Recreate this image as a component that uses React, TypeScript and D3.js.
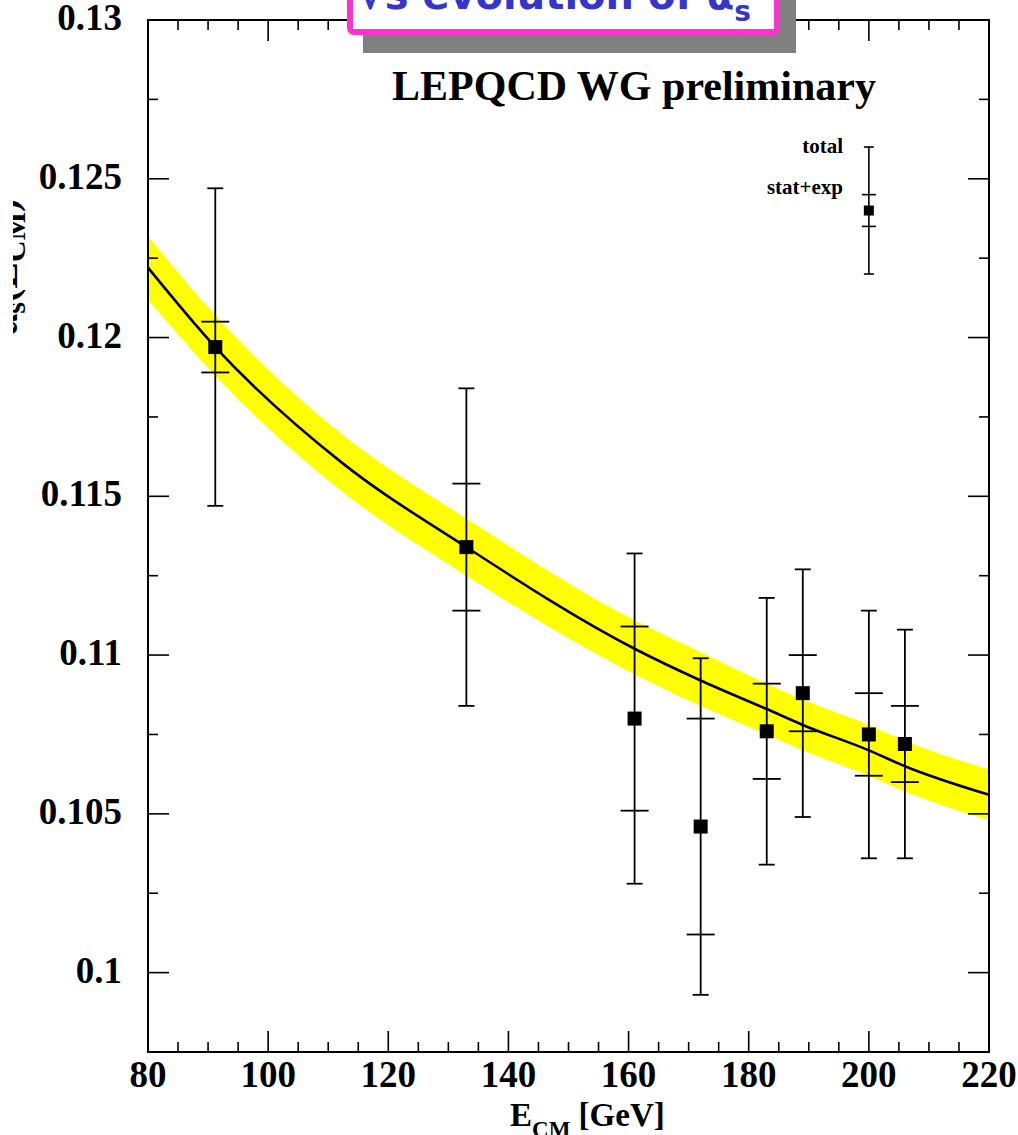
import React from "react";
import * as d3 from "d3";

// ---- data ----
const energies = [91.2, 133, 161, 172, 183, 189, 200, 206];
const alphaS = [0.1197, 0.1134, 0.108, 0.1046, 0.1076, 0.1088, 0.1075, 0.1072];
const statUp = [0.1205, 0.1154, 0.1109, 0.108, 0.1091, 0.11, 0.1088, 0.1084];
const statLo = [0.1189, 0.1114, 0.1051, 0.1012, 0.1061, 0.1076, 0.1062, 0.106];
const totUp = [0.1247, 0.1184, 0.1132, 0.1099, 0.1118, 0.1127, 0.1114, 0.1108];
const totLo = [0.1147, 0.1084, 0.1028, 0.0993, 0.1034, 0.1049, 0.1036, 0.1036];

const curveE = [80, 91.2, 112, 133, 161, 172, 183, 189, 200, 206, 220];
const curveA = [0.1222, 0.1197, 0.1161, 0.1134, 0.1102, 0.1092, 0.1083, 0.1078, 0.107, 0.1065, 0.1056];
const bandUp = [0.1232, 0.1207, 0.117, 0.1143, 0.1111, 0.1101, 0.1091, 0.1086, 0.1078, 0.1073, 0.1064];
const bandLo = [0.1212, 0.1188, 0.1152, 0.1125, 0.1094, 0.1084, 0.1075, 0.107, 0.1062, 0.1057, 0.1048];

const legendE = 200;
const legendA = 0.124;
const legendStat = [0.1245, 0.1235];
const legendTot = [0.126, 0.122];

const xTicks = [80, 100, 120, 140, 160, 180, 200, 220];
const yTicks = [0.1, 0.105, 0.11, 0.115, 0.12, 0.125, 0.13];
const yTickLabels = ["0.1", "0.105", "0.11", "0.115", "0.12", "0.125", "0.13"];

const W = 1018;
const H = 1135;
const L = 148, R = 989, T = 20, B = 1052;
const serif = "'Liberation Serif', 'Times New Roman', serif";

export default function App() {
  const x = d3.scaleLinear().domain([80, 220]).range([L, R]);
  const y = d3.scaleLinear().domain([0.0975, 0.13]).range([B, T]);

  const band = d3
    .area<number>()
    .x((_, i) => x(curveE[i]))
    .y0((_, i) => y(bandLo[i]))
    .y1((_, i) => y(bandUp[i]))
    .curve(d3.curveMonotoneX)(curveE);
  const line = d3
    .line<number>()
    .x((_, i) => x(curveE[i]))
    .y((_, i) => y(curveA[i]))
    .curve(d3.curveMonotoneX)(curveE);

  const xMinor = d3.range(80, 220.01, 5);
  const yMinor = d3.range(0.0975, 0.13001, 0.0025);

  const isMajorX = (v: number) => Math.abs(v % 20) < 1e-6;
  const isMajorY = (v: number) => Math.round(v * 10000) % 50 === 0;

  return (
    <svg
      width={W}
      height={H}
      style={{ position: "absolute", left: 0, top: 0, background: "#fff" }}
    >
      <rect x={0} y={0} width={W} height={H} fill="#fff" />
      {/* band + curve */}
      <path d={band || ""} fill="#ffff00" stroke="none" />
      <path d={line || ""} fill="none" stroke="#000" strokeWidth={2.6} />

      {/* ticks */}
      {xMinor.map((v, i) => {
        const len = isMajorX(v) ? 21 : 10;
        const px = x(v);
        return (
          <g key={"xt" + i} stroke="#000" strokeWidth={1.6}>
            <line x1={px} x2={px} y1={B} y2={B - len} />
            <line x1={px} x2={px} y1={T} y2={T + len} />
          </g>
        );
      })}
      {yMinor.map((v, i) => {
        const len = isMajorY(v) ? 21 : 10;
        const py = y(v);
        return (
          <g key={"yt" + i} stroke="#000" strokeWidth={1.6}>
            <line x1={L} x2={L + len} y1={py} y2={py} />
            <line x1={R} x2={R - len} y1={py} y2={py} />
          </g>
        );
      })}

      {/* frame */}
      <rect x={L} y={T} width={R - L} height={B - T} fill="none" stroke="#000" strokeWidth={2} />

      {/* data points */}
      {energies.map((e, i) => {
        const px = x(e);
        return (
          <g key={"p" + i} stroke="#000" strokeWidth={1.8}>
            <line x1={px} x2={px} y1={y(totUp[i])} y2={y(totLo[i])} />
            <line x1={px - 8} x2={px + 8} y1={y(totUp[i])} y2={y(totUp[i])} />
            <line x1={px - 8} x2={px + 8} y1={y(totLo[i])} y2={y(totLo[i])} />
            <line x1={px - 14} x2={px + 14} y1={y(statUp[i])} y2={y(statUp[i])} />
            <line x1={px - 14} x2={px + 14} y1={y(statLo[i])} y2={y(statLo[i])} />
            <rect x={px - 7} y={y(alphaS[i]) - 7} width={14} height={14} fill="#000" stroke="none" />
          </g>
        );
      })}

      {/* legend */}
      <g stroke="#000" strokeWidth={1.6}>
        <line x1={x(legendE)} x2={x(legendE)} y1={y(legendTot[0])} y2={y(legendTot[1])} />
        <line x1={x(legendE) - 5} x2={x(legendE) + 5} y1={y(legendTot[0])} y2={y(legendTot[0])} />
        <line x1={x(legendE) - 5} x2={x(legendE) + 5} y1={y(legendTot[1])} y2={y(legendTot[1])} />
        <line x1={x(legendE) - 7} x2={x(legendE) + 7} y1={y(legendStat[0])} y2={y(legendStat[0])} />
        <line x1={x(legendE) - 7} x2={x(legendE) + 7} y1={y(legendStat[1])} y2={y(legendStat[1])} />
        <rect x={x(legendE) - 5} y={y(legendA) - 5} width={10} height={10} fill="#000" stroke="none" />
      </g>
      <text x={843} y={153} textAnchor="end" fontFamily={serif} fontWeight="bold" fontSize={21}>
        total
      </text>
      <text x={843} y={194} textAnchor="end" fontFamily={serif} fontWeight="bold" fontSize={21}>
        stat+exp
      </text>

      <text x={634} y={100} textAnchor="middle" fontFamily={serif} fontWeight="bold" fontSize={42}>
        LEPQCD WG preliminary
      </text>

      {/* tick labels */}
      {yTicks.map((v, i) => (
        <text
          key={"yl" + i}
          x={122}
          y={y(v) + 10}
          textAnchor="end"
          fontFamily={serif}
          fontWeight="bold"
          fontSize={37}
        >
          {yTickLabels[i]}
        </text>
      ))}
      {xTicks.map((v, i) => (
        <text
          key={"xl" + i}
          x={x(v)}
          y={1087}
          textAnchor="middle"
          fontFamily={serif}
          fontWeight="bold"
          fontSize={37}
        >
          {v}
        </text>
      ))}

      {/* x title */}
      <text x={510} y={1126} fontFamily={serif} fontWeight="bold" fontSize={33}>
        E
        <tspan fontSize={23} dy={11}>CM</tspan>
        <tspan dy={-11}> [GeV]</tspan>
      </text>

      {/* y title (clipped at left) */}
      <text
        transform="translate(17,336) rotate(-90)"
        fontFamily={serif}
        fontWeight="bold"
        fontSize={40}
      >
        α
        <tspan fontSize={30} dy={8}>s</tspan>
        <tspan dy={-8}>(E</tspan>
        <tspan fontSize={30} dy={8}>CM</tspan>
        <tspan dy={-8}>)</tspan>
      </text>
      <rect x={0} y={0} width={13} height={H} fill="#fff" />

      {/* title box */}
      <rect x={363} y={-20} width={433} height={73} fill="#808080" />
      <rect x={350} y={-60} width={427} height={92} rx={4} fill="#fff" stroke="#ff33cc" strokeWidth={6} />
      <text
        x={358}
        y={9}
        fontFamily="'DejaVu Sans', sans-serif"
        fontWeight="bold"
        fontSize={40}
        fill="#3535cc"
      >
        √s evolution of α
        <tspan fontSize={28} dy={12}>s</tspan>
      </text>
    </svg>
  );
}
